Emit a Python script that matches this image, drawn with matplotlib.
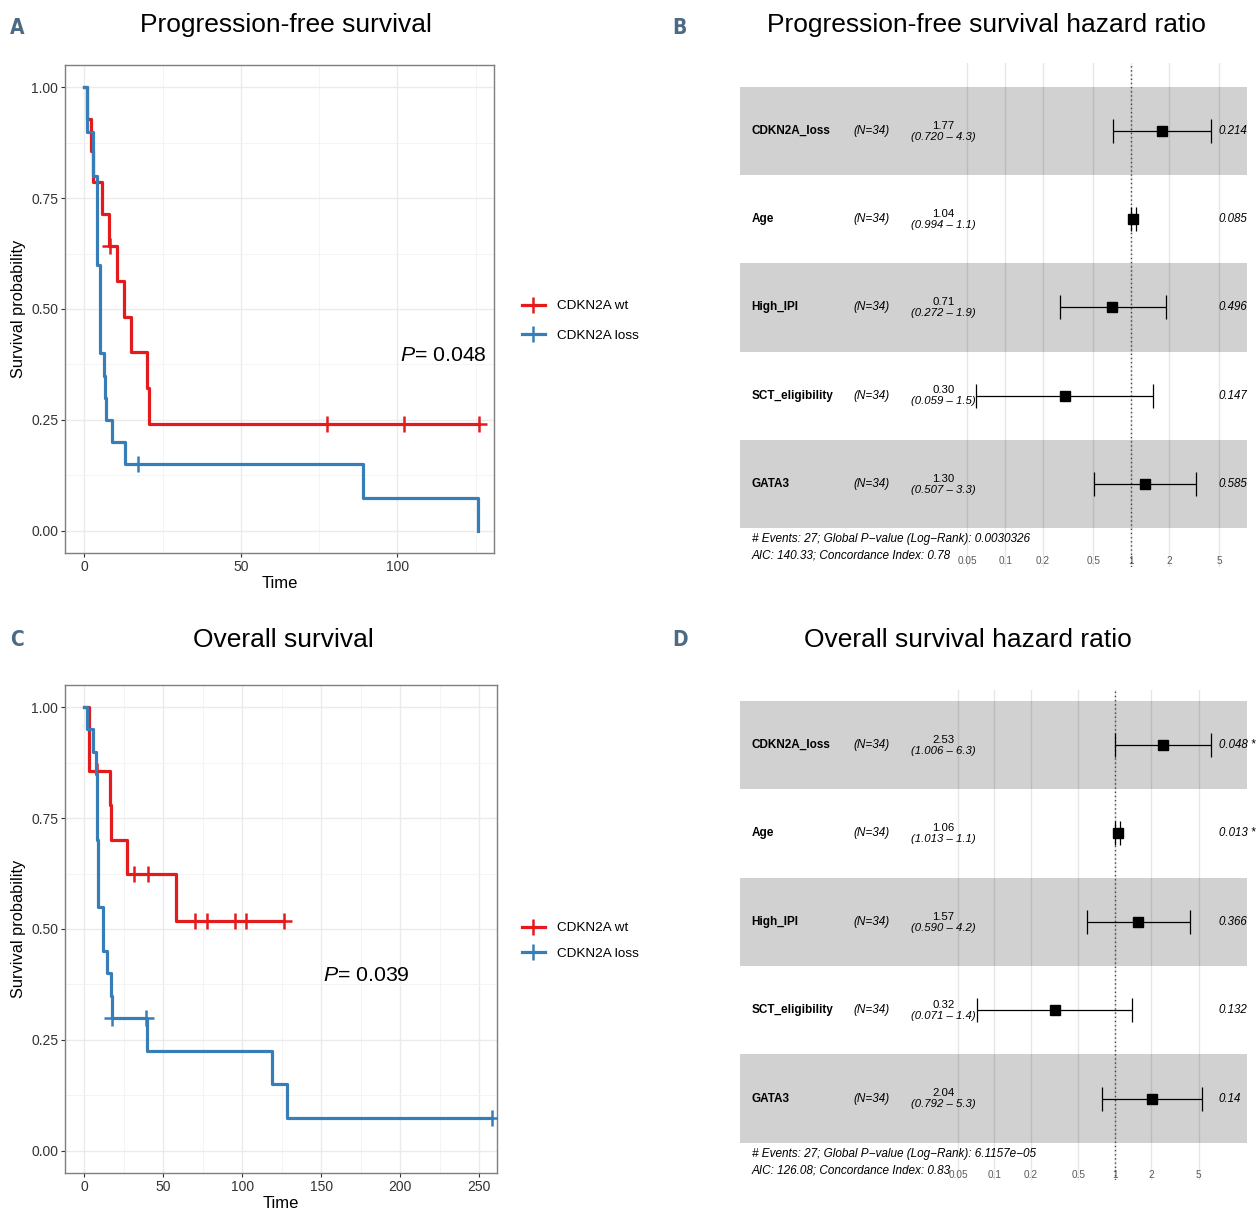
import numpy as np
import matplotlib
matplotlib.use('Agg')
from matplotlib import pyplot
from matplotlib.lines import Line2D
from matplotlib.ticker import NullLocator
from matplotlib.transforms import blended_transform_factory

# Kaplan-Meier steps (time, survival after the step)
pfs_wt_time = [0, 0.8, 2.0, 2.9, 5.5, 8.0, 10.3, 12.7, 14.9, 20.1, 20.5, 126]
pfs_wt_surv = [1.0, 0.929, 0.857, 0.786, 0.714, 0.643, 0.563, 0.482, 0.402, 0.321, 0.241, 0.241]
pfs_wt_censor = [8.2, 77.4, 102, 126]

pfs_loss_time = [0, 0.7, 2.9, 4.0, 5.0, 6.2, 6.6, 7.0, 8.9, 13.0, 88.9, 125.7]
pfs_loss_surv = [1.0, 0.9, 0.8, 0.6, 0.4, 0.35, 0.3, 0.25, 0.2, 0.15, 0.075, 0.0]
pfs_loss_censor = [17]

os_wt_time = [0, 3.2, 16.3, 17.0, 26.8, 58.0, 126.5]
os_wt_surv = [1.0, 0.857, 0.779, 0.701, 0.623, 0.519, 0.519]
os_wt_censor = [7.9, 31.5, 40.5, 70.1, 77.5, 95.4, 102.2, 126.5]

os_loss_time = [0, 1.9, 5.3, 7.4, 7.8, 9.0, 12.0, 14.2, 16.7, 17.3, 40.0, 118.9, 128.2, 258]
os_loss_surv = [1.0, 0.95, 0.9, 0.85, 0.7, 0.55, 0.45, 0.4, 0.35, 0.3, 0.225, 0.15, 0.075, 0.075]
os_loss_censor = [17.3, 39.0, 258]

group_labels = ['CDKN2A wt', 'CDKN2A loss']
pfs_pvalue = '0.048'
os_pvalue = '0.039'

# Cox models
cox_vars = ['CDKN2A_loss', 'Age', 'High_IPI', 'SCT_eligibility', 'GATA3']
cox_n = [34, 34, 34, 34, 34]

pfs_hr = [1.77, 1.04, 0.71, 0.30, 1.30]
pfs_lo = [0.720, 0.994, 0.272, 0.059, 0.507]
pfs_hi = [4.3, 1.1, 1.9, 1.5, 3.3]
pfs_p = ['0.214', '0.085', '0.496', '0.147', '0.585']
pfs_footer = ['# Events: 27; Global P\u2212value (Log\u2212Rank): 0.0030326',
              'AIC: 140.33; Concordance Index: 0.78']

os_hr = [2.53, 1.06, 1.57, 0.32, 2.04]
os_lo = [1.006, 1.013, 0.590, 0.071, 0.792]
os_hi = [6.3, 1.1, 4.2, 1.4, 5.3]
os_p = ['0.048 *', '0.013 *', '0.366', '0.132', '0.14']
os_footer = ['# Events: 27; Global P\u2212value (Log\u2212Rank): 6.1157e\u221205',
             'AIC: 126.08; Concordance Index: 0.83']

forest_ticks = [0.05, 0.1, 0.2, 0.5, 1, 2, 5]

RED = '#E41A1C'
BLUE = '#377EB8'
LETTER_COLOR = '#4d6a85'
FIG_W, FIG_H = 1260, 1212
DPI = 100

pyplot.rcParams['font.family'] = ['Liberation Sans', 'DejaVu Sans']
pyplot.rcParams['mathtext.fontset'] = 'custom'
pyplot.rcParams['mathtext.it'] = 'Liberation Sans:italic'
pyplot.rcParams['mathtext.rm'] = 'Liberation Sans'


def px_box(left, top, right, bottom):
    """Axes rectangle in figure fraction from pixel edges."""
    return [left / FIG_W, 1 - bottom / FIG_H, (right - left) / FIG_W, (bottom - top) / FIG_H]


def level_at(times, surv, t):
    idx = np.searchsorted(times, t, side='right') - 1
    return np.asarray(surv)[idx]


def km_panel(fig, box, curves, xlim, xticks, xminor, pvalue, pval_pos, legend_y, legend_spacing):
    ax = fig.add_axes(box)

    for times, surv, censor, color in curves:
        ax.step(times, surv, where='post', color=color, lw=2.3, zorder=3)
        ax.plot(censor, level_at(times, surv, censor), ls='none', marker='+',
                ms=11.5, mew=1.8, color=color, zorder=3)

    ax.set_xlim(*xlim)
    ax.set_ylim(-0.05, 1.05)
    ax.set_xticks(xticks)
    ax.set_xticks(xminor, minor=True)
    ax.set_yticks([0, 0.25, 0.5, 0.75, 1.0])
    ax.set_yticks([0.125, 0.375, 0.625, 0.875], minor=True)
    ax.set_yticklabels(['%.2f' % v for v in [0, 0.25, 0.5, 0.75, 1.0]])
    ax.grid(which='major', color='#ebebeb', lw=1.0)
    ax.grid(which='minor', color='#f2f2f2', lw=0.6)
    ax.set_axisbelow(True)
    ax.tick_params(which='major', length=2.8, width=0.8, color='#333333',
                   labelsize=10, labelcolor='#333333', pad=2)
    ax.tick_params(which='minor', length=0)
    for spine in ax.spines.values():
        spine.set_color('#7f7f7f')
        spine.set_linewidth(1.0)

    ax.set_xlabel('Time', fontsize=12)
    ax.set_ylabel('Survival probability', fontsize=11.8)
    ax.xaxis.set_label_coords(0.5, -0.047)
    ax.yaxis.set_label_coords(-0.091, 0.5)

    ax.text(pval_pos[0], pval_pos[1], r'$\mathit{P}$= ' + pvalue, fontsize=15.3,
            ha='left', va='center')

    handles = [Line2D([], [], color=c, lw=2.3, marker='+', ms=11.5, mew=1.8)
               for _, _, _, c in curves]
    fig.legend(handles, group_labels, loc='center left',
               bbox_to_anchor=(522 / FIG_W, 1 - legend_y / FIG_H),
               frameon=False, fontsize=9.7, handlelength=1.7, handletextpad=0.9,
               borderpad=0, borderaxespad=0, labelspacing=legend_spacing)
    return ax


def forest_panel(fig, box, xlim, ylim, hr, lo, hi, pvals, footer, tick_pad):
    ax = fig.add_axes(box)
    ax.set_xscale('log')
    ax.set_xlim(*xlim)
    ax.set_ylim(*ylim)

    rows = np.arange(1, len(cox_vars) + 1)
    for r in rows[::2]:
        ax.axhspan(r - 0.5, r + 0.5, color='black', alpha=0.18, lw=0, zorder=1)

    ax.set_xticks(forest_ticks)
    ax.set_xticklabels(['{:g}'.format(t) for t in forest_ticks])
    ax.xaxis.set_minor_locator(NullLocator())
    ax.set_yticks([])
    ax.grid(axis='x', color='#e6e6e6', lw=1.0)
    ax.set_axisbelow(True)
    ax.tick_params(axis='x', length=0, pad=tick_pad, labelsize=7.2, labelcolor='#5a5a5a')
    for spine in ax.spines.values():
        spine.set_visible(False)

    ax.axvline(1, color='#444444', ls=(0, (1, 2)), lw=1.0, zorder=2)

    hr_a = np.array(hr)
    err = [hr_a - np.array(lo), np.array(hi) - hr_a]
    ax.errorbar(hr, rows, xerr=err, fmt='s', color='black', ms=7, capsize=8.8,
                elinewidth=0.9, capthick=0.9, zorder=3)

    trans = blended_transform_factory(ax.transAxes, ax.transData)
    for r, name, n, h, l, u, p in zip(rows, cox_vars, cox_n, hr, lo, hi, pvals):
        ax.text(0.023, r, name, transform=trans, fontsize=8.5, fontweight='bold',
                ha='left', va='center')
        ax.text(0.2235, r, '(N=%d)' % n, transform=trans, fontsize=8.5,
                style='italic', ha='left', va='center')
        ax.text(0.401, r - 0.06, '%.2f' % h, transform=trans, fontsize=8.2,
                ha='center', va='center')
        ax.text(0.401, r + 0.065, '(%.3f \u2013 %.1f)' % (l, u), transform=trans,
                fontsize=8.2, style='italic', ha='center', va='center')
        ax.text(0.944, r, p, transform=trans, fontsize=8.3, style='italic',
                ha='left', va='center')

    ax.text(0.023, 5.62, footer[0], transform=trans, fontsize=8.5, style='italic',
            ha='left', va='center')
    ax.text(0.023, 5.81, footer[1], transform=trans, fontsize=8.5, style='italic',
            ha='left', va='center')
    return ax


fig = pyplot.figure(figsize=(FIG_W / DPI, FIG_H / DPI), dpi=DPI)

km_panel(fig, px_box(65, 65, 494, 553),
         [(pfs_wt_time, pfs_wt_surv, pfs_wt_censor, RED),
          (pfs_loss_time, pfs_loss_surv, pfs_loss_censor, BLUE)],
         (-6.2, 130.9), [0, 50, 100], [25, 75, 125],
         pfs_pvalue, (100.9, 0.396), 321, 1.3)

km_panel(fig, px_box(65, 685, 497, 1173),
         [(os_wt_time, os_wt_surv, os_wt_censor, RED),
          (os_loss_time, os_loss_surv, os_loss_censor, BLUE)],
         (-12.2, 261.4), [0, 50, 100, 150, 200, 250], [25, 75, 125, 175, 225],
         os_pvalue, (151.2, 0.396), 941, 1.0)

forest_panel(fig, px_box(740, 63, 1247, 567),
             (10 ** -3.107, 10 ** 0.9215), (5.94, 0.232),
             pfs_hr, pfs_lo, pfs_hi, pfs_p, pfs_footer, -7.9)

forest_panel(fig, px_box(740, 690, 1247, 1180),
             (10 ** -3.117, 10 ** 1.101), (5.919, 0.379),
             os_hr, os_lo, os_hi, os_p, os_footer, -7.2)

titles = [('Progression-free survival', 286, 25),
          ('Progression-free survival hazard ratio', 986, 25),
          ('Overall survival', 283, 640),
          ('Overall survival hazard ratio', 968, 640)]
for text, x, y in titles:
    fig.text(x / FIG_W, 1 - y / FIG_H, text, fontsize=19, ha='center', va='center')

letters = [('A', 17, 28), ('B', 679, 28), ('C', 17, 640), ('D', 680, 640)]
for text, x, y in letters:
    fig.text(x / FIG_W, 1 - y / FIG_H, text, fontsize=15, fontweight='bold',
             family='DejaVu Sans', fontstretch='condensed', color=LETTER_COLOR,
             ha='center', va='center')

fig.savefig('out.png', dpi=DPI)
